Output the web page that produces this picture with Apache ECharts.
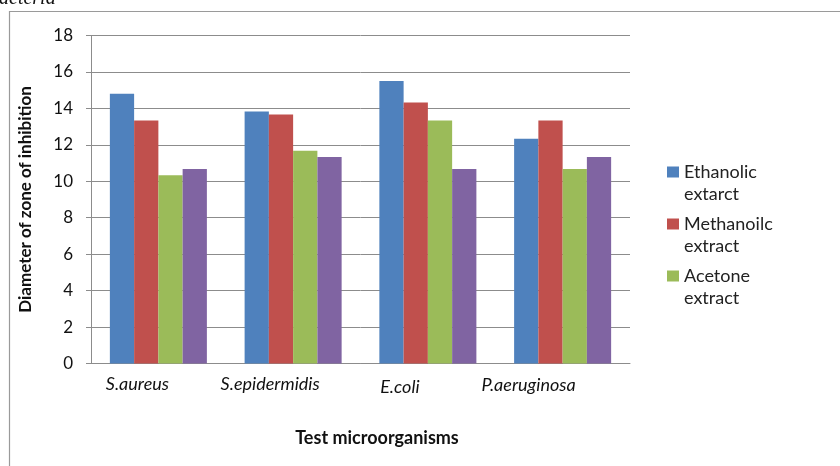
<!DOCTYPE html>
<html>
<head>
<meta charset="utf-8">
<script src="https://cdn.jsdelivr.net/npm/echarts@6/dist/echarts.min.js"></script>
<style>
  html, body { margin: 0; padding: 0; background: #fff; }
  #chart { width: 840px; height: 466px; }
</style>
</head>
<body>
<div id="chart"></div>
<script>
// Test organisms on the category axis
const organisms = ['S.aureus', 'S.epidermidis', 'E.coli', 'P.aeruginosa'];

// Zone of inhibition diameters for each extract
const ethanolic = [14.8, 13.83, 15.5, 12.33];
const methanolic = [13.33, 13.67, 14.33, 13.33];
const acetone = [10.33, 11.67, 13.33, 10.67];
const fourthExtract = [10.67, 11.33, 10.67, 11.33];

// Y-axis scale
const yMin = 0;
const yMax = 18;
const yStep = 2;

const seriesNames = ['Ethanolic\nextarct', 'Methanoilc\nextract', 'Acetone\nextract', 'Fourth extract'];
const seriesColors = ['#4F81BD', '#C0504D', '#9BBB59', '#8064A2'];
const seriesValues = [ethanolic, methanolic, acetone, fourthExtract];

// small per-label nudges for the category labels
const labelPads = [
  [0, 42, 0, 0],
  [0, 46, 0, 0],
  [3, 56, 0, 0],
  [1, 68, 0, 0]
];

const chart = echarts.init(document.getElementById('chart'), null, { renderer: 'canvas' });

const option = {
  backgroundColor: '#ffffff',
  animation: false,
  textStyle: { fontFamily: 'Lato' },
  graphic: [
    {
      type: 'rect',
      shape: { x: 9.5, y: 11.5, width: 900, height: 600 },
      style: { fill: 'none', stroke: '#9a9a9a', lineWidth: 1.2 },
      silent: true
    },
    {
      type: 'text',
      style: {
        x: -11, y: 9,
        text: 'bacteria',
        font: 'italic 20px "Liberation Serif"',
        fill: '#111',
        verticalAlign: 'bottom'
      },
      silent: true
    }
  ],
  grid: { left: 91, right: 210, top: 35.5, bottom: 102.5, containLabel: false },
  legend: {
    data: seriesNames.slice(0, 3),
    orient: 'vertical',
    left: 667,
    top: 139,
    padding: 0,
    icon: 'rect',
    itemWidth: 12,
    itemHeight: 11,
    itemGap: -14,
    itemStyle: { borderWidth: 0 },
    selectedMode: false,
    // a leading blank line puts the first text line level with the swatch
    formatter: name => '\n' + name,
    textStyle: {
      fontFamily: 'Lato',
      fontSize: 18,
      color: '#222',
      lineHeight: 22
    }
  },
  xAxis: {
    type: 'category',
    data: organisms.map((name, i) => ({
      value: name,
      textStyle: { padding: labelPads[i] }
    })),
    name: 'Test microorganisms',
    nameLocation: 'middle',
    nameGap: 66,
    nameTextStyle: {
      fontFamily: 'Lato',
      fontWeight: 'bold',
      fontSize: 18,
      color: '#111',
      padding: [0, 0, 0, 33]
    },
    axisLine: { lineStyle: { color: '#8c8c8c', width: 1 } },
    axisTick: { show: false },
    axisLabel: {
      fontFamily: 'Lato',
      fontStyle: 'italic',
      fontSize: 18,
      color: '#111',
      margin: 12
    },
    splitLine: { show: false }
  },
  yAxis: {
    type: 'value',
    min: yMin,
    max: yMax,
    interval: yStep,
    name: 'Diameter of zone of inhibition',
    nameLocation: 'middle',
    nameGap: 57,
    nameTextStyle: {
      fontFamily: 'Lato',
      fontWeight: 'bold',
      fontSize: 17,
      color: '#111'
    },
    axisLine: { show: true, lineStyle: { color: '#8c8c8c', width: 1 } },
    axisTick: { show: true, length: 5, lineStyle: { color: '#8c8c8c' } },
    axisLabel: {
      fontFamily: 'Lato',
      fontSize: 17,
      color: '#111',
      margin: 18
    },
    splitLine: { show: true, lineStyle: { color: '#8c8c8c', width: 1 } }
  },
  series: seriesNames.map((name, i) => ({
    name: name,
    type: 'bar',
    data: seriesValues[i],
    barGap: '0%',
    barCategoryGap: '28%',
    itemStyle: { color: seriesColors[i] }
  }))
};

chart.setOption(option);
</script>
</body>
</html>
